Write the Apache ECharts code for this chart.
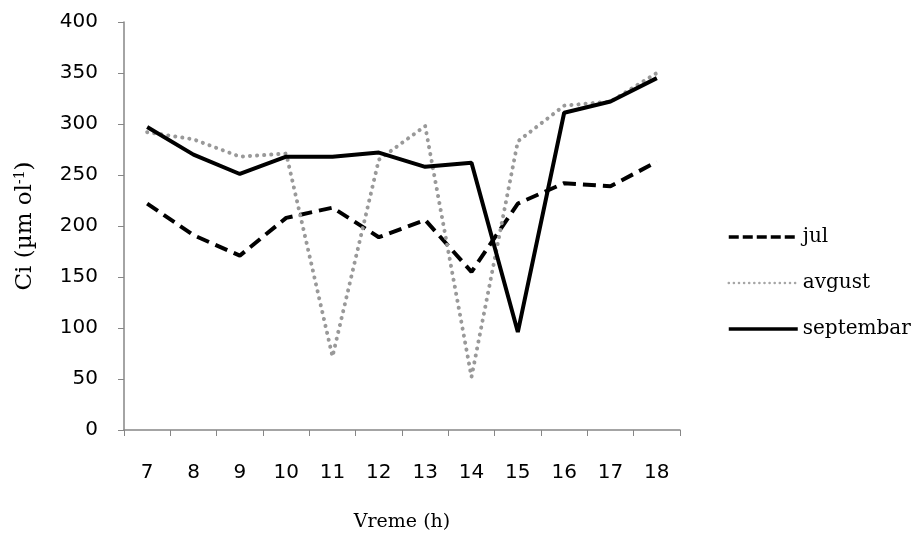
<!DOCTYPE html>
<html>
<head>
<meta charset="utf-8">
<script src="https://cdn.jsdelivr.net/npm/echarts@6/dist/echarts.min.js"></script>
<style>
html,body{margin:0;padding:0;background:#fff;}
#chart{width:918px;height:535px;}
</style>
</head>
<body>
<div id="chart"></div>
<script>
var categories = ['7','8','9','10','11','12','13','14','15','16','17','18'];
var jul = [222, 191, 171, 208, 218, 189, 206, 155, 222, 242, 239, 263];
var avgust = [292, 285, 268, 271, 72, 265, 298, 52, 283, 318, 322, 350];
var septembar = [297, 270, 251, 268, 268, 272, 258, 262, 96, 311, 322, 345];
var yTicks = [0, 400, 50];

var chart = echarts.init(document.getElementById('chart'));
var axisColor = '#868686';
chart.setOption({
  animation: false,
  backgroundColor: '#ffffff',
  grid: {left: 124, right: 238, top: 22, bottom: 105, containLabel: false, outerBoundsMode: 'none'},
  legend: {
    orient: 'vertical',
    left: 722,
    top: 222,
    itemWidth: 69,
    itemHeight: 20,
    itemGap: 26,
    itemStyle: {opacity: 0},
    textStyle: {fontFamily: 'DejaVu Serif', fontSize: 20, color: '#000'},
    data: [
      {name: 'jul', lineStyle: {width: 3.5, type: [10, 4]}},
      {name: 'avgust', lineStyle: {width: 2.5, type: [0.1, 5], cap: 'round', color: '#a6a6a6'}},
      {name: 'septembar', lineStyle: {width: 3.5}}
    ]
  },
  xAxis: {
    type: 'category',
    data: categories,
    boundaryGap: true,
    name: 'Vreme (h)',
    nameLocation: 'middle',
    nameGap: 83,
    nameTextStyle: {fontFamily: 'DejaVu Serif', fontSize: 19, color: '#000'},
    axisLine: {lineStyle: {color: axisColor, width: 1.5}},
    axisTick: {show: true, alignWithLabel: false, length: 6, lineStyle: {color: axisColor}},
    axisLabel: {margin: 33, fontFamily: 'DejaVu Sans', fontSize: 20, color: '#000'},
    splitLine: {show: false}
  },
  yAxis: {
    type: 'value',
    min: yTicks[0], max: yTicks[1], interval: yTicks[2],
    name: 'Ci (µm ol{sup|-1})',
    nameLocation: 'middle',
    nameGap: 87,
    nameRotate: 90,
    nameTextStyle: {fontFamily: 'DejaVu Serif', fontSize: 23, color: '#000',
      rich: {sup: {fontFamily: 'DejaVu Serif', fontSize: 14, verticalAlign: 'top', padding: [0,0,10,0], color: '#000'}}},
    axisLine: {show: true, lineStyle: {color: axisColor, width: 1.5}},
    axisTick: {show: true, length: 6, lineStyle: {color: axisColor}},
    axisLabel: {margin: 26, fontFamily: 'DejaVu Sans', fontSize: 20, color: '#000'},
    splitLine: {show: false}
  },
  series: [
    {name: 'jul', type: 'line', data: jul, symbol: 'none',
     lineStyle: {color: '#000', width: 4, type: [13, 7]}, itemStyle: {color: '#000'}},
    {name: 'avgust', type: 'line', data: avgust, symbol: 'none',
     lineStyle: {color: '#999999', width: 4, type: [0.1, 7], cap: 'round'}, itemStyle: {color: '#999999'}},
    {name: 'septembar', type: 'line', data: septembar, symbol: 'none',
     lineStyle: {color: '#000', width: 4}, itemStyle: {color: '#000'}}
  ]
});
</script>
</body>
</html>
